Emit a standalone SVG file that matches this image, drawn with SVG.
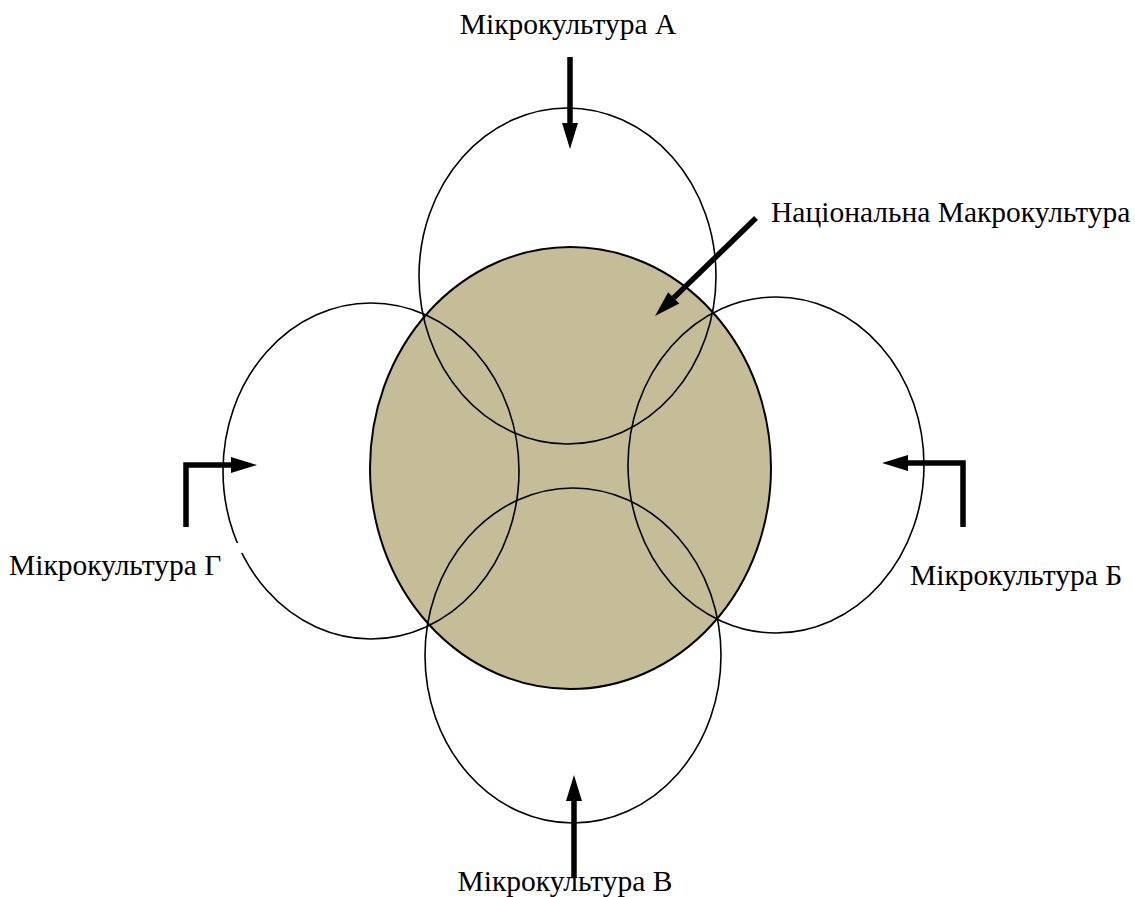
<svg xmlns="http://www.w3.org/2000/svg" width="1135" height="897" viewBox="0 0 1135 897">
<style>
text{font-family:'Liberation Serif','Times New Roman',serif;font-size:29.5px;fill:#000}
.ring{fill:none;stroke:#000;stroke-width:1.6}
.arr{fill:none;stroke:#000;stroke-width:5.5}
</style>
<defs>
<marker id="ah" viewBox="0 0 10 10" refX="0" refY="5" markerWidth="4.73" markerHeight="2.9" markerUnits="strokeWidth" orient="auto" preserveAspectRatio="none" overflow="visible">
<path d="M0,0 L10,5 L0,10 Z" fill="#000"/>
</marker>
</defs>
<rect width="1135" height="897" fill="#fff"/>
<g id="macro">
<ellipse cx="570.5" cy="468" rx="200.5" ry="221" fill="#c4bd97" stroke="#000" stroke-width="2"/>
</g>
<g id="micro-a"><ellipse class="ring" cx="567.5" cy="276" rx="148.5" ry="168"/></g>
<g id="micro-b"><ellipse class="ring" cx="776" cy="465" rx="148" ry="168"/></g>
<g id="micro-v"><ellipse class="ring" cx="573" cy="655.5" rx="148" ry="167.5"/></g>
<g id="micro-g"><ellipse class="ring" cx="371" cy="471" rx="148" ry="168"/>
<rect x="234" y="543" width="12" height="10" fill="#fff"/></g>
<g id="connectors">
<path class="arr" d="M570,57 L570,123" marker-end="url(#ah)"/>
<path class="arr" d="M756,218 L673.7,297.9" marker-end="url(#ah)"/>
<path class="arr" d="M186,527 L186,465 L231,465" marker-end="url(#ah)"/>
<path class="arr" d="M963,527 L963,463 L908,463" marker-end="url(#ah)"/>
<path class="arr" d="M574,877 L574,801" marker-end="url(#ah)"/>
</g>
<g id="labels">
<text x="568" y="34" text-anchor="middle">Мікрокультура А</text>
<text x="771" y="222">Національна Макрокультура</text>
<text x="910" y="585">Мікрокультура Б</text>
<text x="9" y="575">Мікрокультура Г</text>
<text x="565" y="891" text-anchor="middle">Мікрокультура В</text>
</g>
</svg>
